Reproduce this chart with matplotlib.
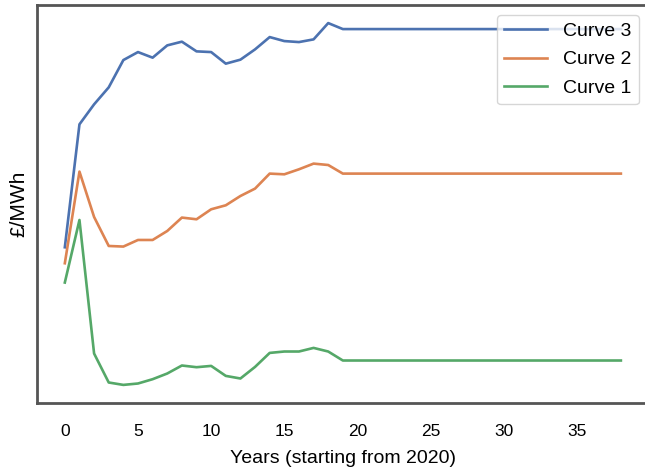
import matplotlib.pyplot as plt
import numpy as np

plt.rcParams['font.family'] = ['Liberation Sans', 'DejaVu Sans']

years = np.arange(39)

# price paths for the first 20 years, then held flat
curve3_head = [152, 275, 295, 312, 339.3, 347.3, 341.7, 354, 357.7, 348, 347.3,
               335.7, 339.7, 350, 362.3, 358.3, 357.3, 360, 376.3, 370.3]
curve2_head = [136, 227.7, 182.3, 153.3, 152.7, 159.3, 159.3, 168.3, 181.7, 180,
               190, 194, 203.3, 210.7, 225.7, 225, 230, 235.7, 234.3, 225.7]
curve1_head = [116.7, 179.3, 45.7, 16.7, 14.3, 15.7, 20, 25.7, 33.7, 32, 33.3,
               23.3, 20.7, 32.3, 46.3, 47.7, 47.7, 51.3, 47.7, 38.7]

curve3 = curve3_head + [curve3_head[-1]] * (len(years) - len(curve3_head))
curve2 = curve2_head + [curve2_head[-1]] * (len(years) - len(curve2_head))
curve1 = curve1_head + [curve1_head[-1]] * (len(years) - len(curve1_head))

fig = plt.figure(figsize=(6.45, 4.71), dpi=100)
ax = fig.add_axes([0.0574, 0.1444, 0.9483, 0.845])

ax.plot(years, curve3, color='#4c72b0', lw=1.9, label='Curve 3')
ax.plot(years, curve2, color='#dd8452', lw=1.9, label='Curve 2')
ax.plot(years, curve1, color='#55a868', lw=1.9, label='Curve 1')

ax.set_xticks(range(0, 36, 5))
ax.set_yticks([])
ax.tick_params(axis='x', length=0, labelsize=12.5, pad=15)
ax.set_xlabel('Years (starting from 2020)', fontsize=14, labelpad=8)
ax.set_ylabel('£/MWh', fontsize=15, labelpad=6)

for sp in ax.spines.values():
    sp.set_color('#555555')
    sp.set_linewidth(2)

ax.legend(loc='upper right', fontsize=14, frameon=True, fancybox=True,
          borderaxespad=0.5, handlelength=2.2, labelspacing=0.55)

fig.savefig('out.png', dpi=100)
